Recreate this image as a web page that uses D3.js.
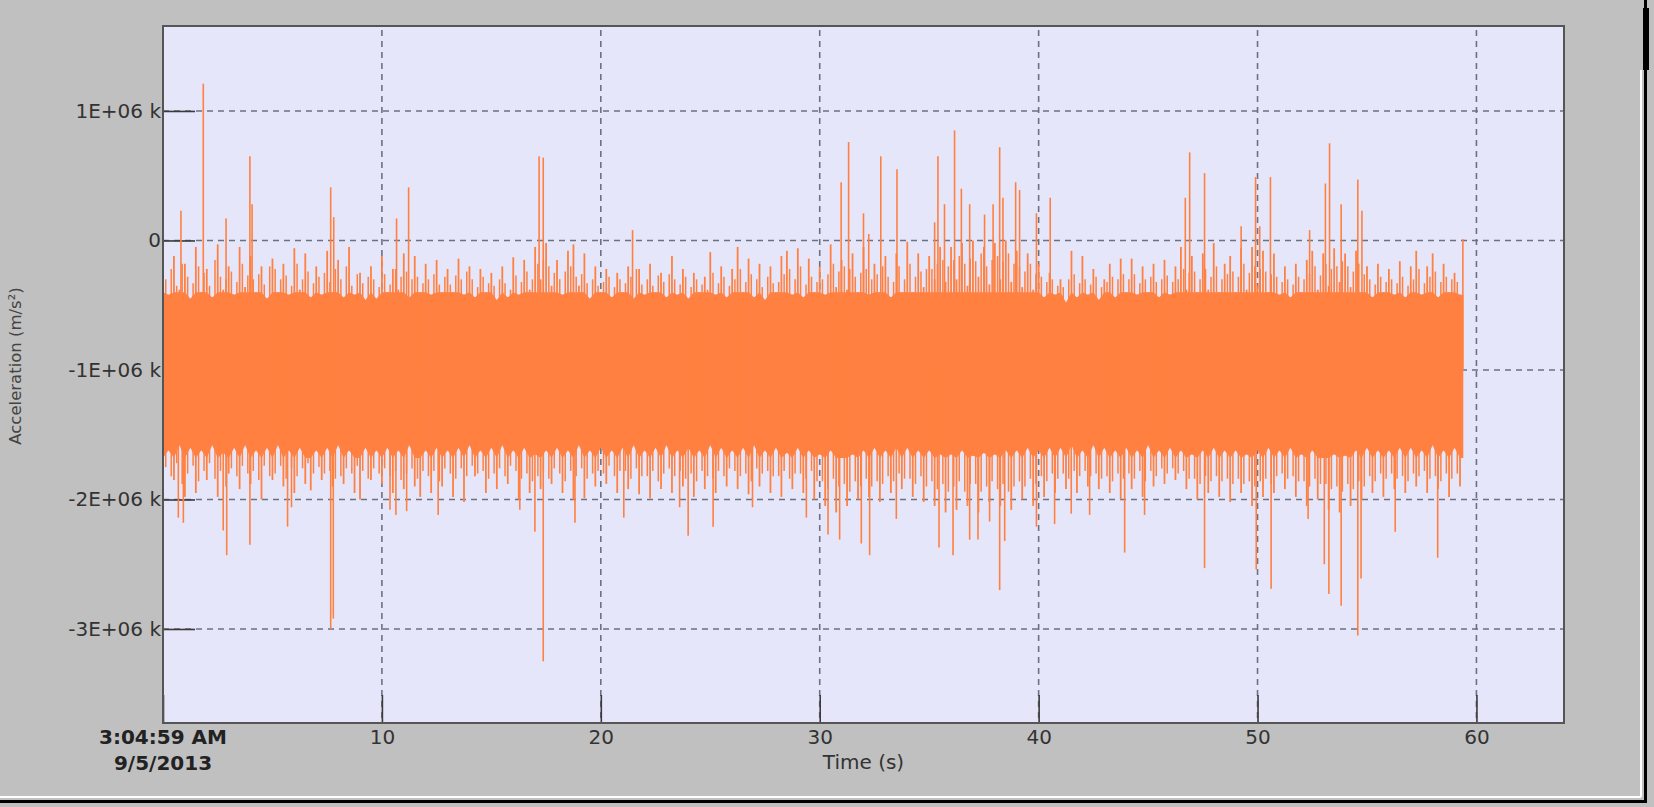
<!DOCTYPE html>
<html>
<head>
<meta charset="utf-8">
<script src="https://cdn.jsdelivr.net/npm/d3@7"></script>
<style>
  body { margin: 0; background: #c0c0c0; }
  svg { display: block; }
  text { font-family: "DejaVu Sans", sans-serif; }
</style>
</head>
<body>
<div id="chart"></div>
<script>
// axis ticks and labels
var xTicks = [0, 10, 20, 30, 40, 50, 60];
var yTicks = [1, 0, -1, -2, -3];          // in 1E+06
var startStamp = ["3:04:59 AM", "9/5/2013"];

// ragged top / bottom edge of the dense waveform, one value every 0.25 s (1E+06 units)
var sampleStep = 0.25;
var upperEdge = [
  -0.10,-0.42,-0.12,-0.38, -0.18,-0.45,-0.05,-0.40, -0.22,-0.44,-0.03,-0.38, -0.20,-0.42,-0.05,-0.36,
  -0.12,-0.40,-0.20,-0.45, -0.14,-0.40,-0.18,-0.42, -0.06,-0.38,-0.10,-0.44, -0.20,-0.42,-0.08,-0.40,
  -0.15,-0.44,-0.05,-0.42, -0.25,-0.46,-0.20,-0.45, -0.12,-0.40,-0.22,-0.38, -0.10,-0.44,-0.12,-0.40,
  -0.18,-0.42,-0.15,-0.40, -0.22,-0.40,-0.14,-0.42, -0.20,-0.44,-0.22,-0.40, -0.25,-0.46,-0.20,-0.44,
  -0.13,-0.42,-0.15,-0.38, -0.05,-0.30,-0.02,-0.35, -0.15,-0.42,-0.08,-0.03, -0.35,-0.10,-0.45,-0.20,
  -0.40,-0.22,-0.44,-0.25, -0.40,-0.20,-0.45,-0.22, -0.42,-0.18,-0.40,-0.25, -0.44,-0.12,-0.42,-0.22,
  -0.45,-0.25,-0.40,-0.28, -0.09,-0.42,-0.20,-0.44, -0.22,-0.05,-0.40,-0.14, -0.44,-0.18,-0.46,-0.20,
  -0.40,-0.12,-0.08,-0.42, -0.06,-0.44,-0.14,-0.40, -0.20,-0.42,-0.03,-0.36, -0.15,-0.38,-0.10,-0.40,
  -0.05,-0.42,-0.18,-0.40, -0.12,-0.44,-0.10,-0.40, -0.01,-0.40,-0.10,-0.36, -0.12,-0.30,-0.05,-0.32,
  -0.05,-0.30,-0.02,-0.35,  0.00,-0.28,-0.05,-0.34, -0.02,-0.30, 0.00,-0.32, -0.08,-0.36,-0.10,-0.38,
  -0.18,-0.44,-0.25,-0.42, -0.30,-0.48,-0.08,-0.44, -0.12,-0.42,-0.22,-0.46, -0.30,-0.18,-0.44,-0.14,
  -0.40,-0.14,-0.42,-0.20, -0.40,-0.18,-0.44,-0.15, -0.42,-0.20,-0.05,-0.38, -0.12,-0.40,-0.10,-0.38,
  -0.02,-0.40,-0.18,-0.12, -0.40,-0.06,-0.38,-0.05, -0.35,-0.08,-0.40,-0.10, -0.42,-0.20,-0.44,-0.18,
  -0.40,-0.15,-0.08,-0.38, -0.10,-0.35,-0.06,-0.32, -0.10,-0.36,-0.08,-0.40, -0.20,-0.44,-0.18,-0.40,
  -0.22,-0.42,-0.16,-0.44, -0.20,-0.08,-0.42,-0.20, -0.10,-0.44,-0.18,-0.40, -0.25,-0.42
];
var lowerEdge = [
  -1.90,-1.62,-1.85,-1.58, -1.98,-1.60,-1.95,-1.62, -1.85,-1.58,-1.98,-1.64, -1.80,-1.60,-1.92,-1.58,
  -1.88,-1.62,-2.00,-1.60, -1.85,-1.58,-1.90,-1.62, -1.95,-1.60,-1.88,-1.93, -1.62,-1.85,-1.60,-1.90,
  -1.58,-1.88,-1.62,-1.95, -2.00,-1.60,-1.85,-1.62, -1.88,-1.60,-1.95,-1.62, -1.92,-1.58,-1.90,-1.98,
  -1.62,-1.95,-1.60,-1.90, -1.62,-1.98,-1.60,-2.02, -1.58,-1.82,-1.62,-1.95, -1.60,-1.92,-1.58,-1.88,
  -1.62,-2.00,-1.60,-1.95, -1.65,-1.92,-1.62,-1.88, -1.60,-1.95,-1.62,-2.00, -1.58,-1.99,-1.62,-1.90,
  -1.60,-1.88,-1.62,-1.95, -1.60,-1.92,-1.58,-1.96, -1.62,-1.99,-1.60,-1.92, -1.58,-1.95,-1.62,-1.90,
  -1.60,-1.98,-1.62,-1.92, -1.58,-1.95,-1.60,-1.90, -1.62,-1.92,-1.60,-1.96, -1.58,-1.90,-1.62,-1.95,
  -1.60,-1.98,-1.64,-1.92, -1.60,-1.95,-1.62,-2.00, -1.65,-2.05,-1.62,-2.10, -1.68,-2.05,-1.65,-2.00,
  -1.62,-1.98,-1.60,-2.02, -1.62,-1.95,-1.60,-1.92, -1.60,-1.98,-1.62,-2.02, -1.62,-2.05,-1.65,-2.10,
  -1.65,-2.08,-1.62,-2.05, -1.66,-2.10,-1.64,-2.02, -1.65,-2.05,-1.62,-2.08, -1.62,-2.00,-1.60,-2.05,
  -1.62,-1.98,-1.60,-1.95, -1.60,-1.92,-1.58,-1.95, -1.62,-1.90,-1.58,-1.92, -1.60,-1.95,-1.62,-2.00,
  -1.60,-1.92,-1.62,-1.98, -1.58,-1.90,-1.62,-1.88, -1.60,-1.85,-1.62,-1.92, -1.65,-2.00,-1.62,-1.95,
  -1.60,-1.98,-1.62,-2.02, -1.62,-1.95,-1.65,-2.05, -1.62,-1.98,-1.60,-1.95, -1.62,-1.92,-1.60,-1.98,
  -1.65,-2.05,-1.62,-2.00, -1.68,-2.08,-1.65,-2.10, -1.66,-2.05,-1.62,-2.00, -1.60,-1.95,-1.62,-1.98,
  -1.62,-1.92,-1.60,-1.95, -1.60,-1.90,-1.62,-1.95, -1.58,-1.92,-1.62,-1.98, -1.60,-1.90
];
// in-between hairs, half a step later (t = 0.125 s + 0.25 s * i)
var upperMid = [
  -0.30,-0.22,-0.35,-0.18, -0.28,-0.33,-0.20,-0.25, -0.35,-0.15,-0.28,-0.30, -0.24,-0.32,-0.18,-0.27,
  -0.30,-0.26,-0.34,-0.20, -0.22,-0.30,-0.27,-0.35, -0.18,-0.30,-0.24,-0.33, -0.28,-0.25,-0.32,-0.22,
  -0.30,-0.20,-0.35,-0.26, -0.33,-0.28,-0.30,-0.36, -0.26,-0.34,-0.22,-0.28, -0.24,-0.30,-0.28,-0.33,
  -0.30,-0.26,-0.34,-0.28, -0.34,-0.27,-0.30,-0.24, -0.30,-0.36,-0.28,-0.33, -0.35,-0.30,-0.33,-0.38,
  -0.27,-0.32,-0.24,-0.30, -0.18,-0.15,-0.20,-0.25, -0.30,-0.24,-0.20,-0.28, -0.26,-0.33,-0.30,-0.35,
  -0.32,-0.28,-0.36,-0.30, -0.33,-0.28,-0.22,-0.34, -0.30,-0.35,-0.27,-0.32, -0.26,-0.30,-0.34,-0.28,
  -0.36,-0.30,-0.34,-0.38, -0.25,-0.33,-0.28,-0.35, -0.30,-0.22,-0.32,-0.26, -0.30,-0.36,-0.28,-0.33,
  -0.32,-0.26,-0.22,-0.30, -0.20,-0.34,-0.28,-0.32, -0.30,-0.26,-0.18,-0.24, -0.20,-0.22,-0.28,-0.25,
  -0.22,-0.30,-0.26,-0.20, -0.28,-0.32,-0.20,-0.30, -0.18,-0.28,-0.24,-0.22, -0.22,-0.18,-0.15,-0.20,
  -0.15,-0.12,-0.18,-0.14, -0.16,-0.10,-0.20,-0.15, -0.12,-0.16,-0.10,-0.18, -0.20,-0.24,-0.18,-0.26,
  -0.28,-0.32,-0.30,-0.35, -0.36,-0.30,-0.26,-0.33, -0.30,-0.34,-0.28,-0.36, -0.32,-0.28,-0.30,-0.26,
  -0.30,-0.26,-0.33,-0.30, -0.28,-0.32,-0.30,-0.27, -0.32,-0.30,-0.22,-0.25, -0.24,-0.30,-0.22,-0.28,
  -0.20,-0.30,-0.26,-0.24, -0.28,-0.18,-0.25,-0.20, -0.22,-0.24,-0.26,-0.28, -0.32,-0.30,-0.34,-0.28,
  -0.30,-0.26,-0.20,-0.27, -0.18,-0.22,-0.20,-0.16, -0.20,-0.24,-0.18,-0.26, -0.30,-0.34,-0.28,-0.32,
  -0.30,-0.33,-0.28,-0.35, -0.30,-0.22,-0.33,-0.28, -0.24,-0.32,-0.28,-0.30, -0.32
];
var lowerMid = [
  -1.75,-1.82,-1.72,-1.88, -1.80,-1.74,-1.86,-1.78, -1.72,-1.84,-1.78,-1.90, -1.76,-1.82,-1.74,-1.80,
  -1.78,-1.85,-1.74,-1.82, -1.80,-1.74,-1.84,-1.76, -1.82,-1.76,-1.72,-1.80, -1.75,-1.80,-1.78,-1.84,
  -1.82,-1.76,-1.80,-1.74, -1.78,-1.84,-1.76,-1.80, -1.76,-1.82,-1.78,-1.85, -1.80,-1.76,-1.84,-1.78,
  -1.82,-1.78,-1.86,-1.76, -1.80,-1.84,-1.76,-1.82, -1.74,-1.80,-1.78,-1.84, -1.80,-1.76,-1.82,-1.74,
  -1.78,-1.84,-1.80,-1.86, -1.82,-1.78,-1.84,-1.76, -1.80,-1.86,-1.78,-1.82, -1.76,-1.84,-1.80,-1.78,
  -1.80,-1.74,-1.82,-1.78, -1.78,-1.84,-1.76,-1.82, -1.82,-1.78,-1.86,-1.80, -1.76,-1.82,-1.78,-1.84,
  -1.80,-1.86,-1.78,-1.82, -1.84,-1.78,-1.82,-1.76, -1.78,-1.82,-1.80,-1.86, -1.76,-1.80,-1.78,-1.82,
  -1.82,-1.78,-1.84,-1.80, -1.80,-1.84,-1.78,-1.86, -1.86,-1.92,-1.84,-1.90, -1.88,-1.94,-1.86,-1.90,
  -1.84,-1.90,-1.86,-1.88, -1.82,-1.86,-1.80,-1.84, -1.84,-1.88,-1.82,-1.90, -1.86,-1.92,-1.88,-1.94,
  -1.90,-1.86,-1.94,-1.88, -1.88,-1.94,-1.90,-1.86, -1.92,-1.88,-1.94,-1.90, -1.86,-1.90,-1.84,-1.88,
  -1.82,-1.86,-1.80,-1.84, -1.80,-1.84,-1.78,-1.82, -1.78,-1.82,-1.80,-1.84, -1.82,-1.86,-1.80,-1.84,
  -1.80,-1.84,-1.78,-1.86, -1.78,-1.82,-1.76,-1.80, -1.76,-1.80,-1.78,-1.84, -1.84,-1.88,-1.82,-1.86,
  -1.82,-1.86,-1.84,-1.88, -1.84,-1.88,-1.86,-1.90, -1.86,-1.84,-1.88,-1.82, -1.80,-1.84,-1.82,-1.86,
  -1.86,-1.90,-1.84,-1.88, -1.88,-1.92,-1.90,-1.94, -1.88,-1.92,-1.86,-1.90, -1.82,-1.86,-1.80,-1.84,
  -1.80,-1.84,-1.82,-1.86, -1.80,-1.82,-1.78,-1.84, -1.82,-1.86,-1.80,-1.84, -1.80
];

// isolated spikes [time s, value 1E+06]
var upperSpikes = [
  [0.82,0.23],[1.84,1.21],[2.88,0.17],[3.97,0.65],[4.07,0.28],[7.66,0.41],[7.8,0.18],[10.67,0.17],
  [11.22,0.41],[17.18,0.65],[17.37,0.64],[21.45,0.08],[30.98,0.45],[31.32,0.76],[32.0,0.21],[32.24,0.05],
  [32.79,0.65],[33.53,0.55],[35.25,0.14],[35.4,0.65],[35.7,0.28],[36.16,0.85],[36.47,0.4],[36.85,0.28],
  [37.53,0.2],[37.92,0.28],[38.22,0.72],[38.37,0.33],[38.95,0.45],[39.13,0.39],[39.9,0.21],[40.53,0.33],
  [46.7,0.33],[46.9,0.68],[47.58,0.52],[49.25,0.11],[49.91,0.49],[50.1,0.11],[50.59,0.49],[52.38,0.08],
  [53.1,0.44],[53.29,0.75],[53.82,0.28],[54.58,0.47],[54.77,0.23],[59.38,0.01]
];
var lowerSpikes = [
  [0.7,-2.14],[0.93,-2.18],[2.75,-2.24],[2.91,-2.43],[3.97,-2.35],[5.69,-2.21],[5.87,-2.06],[7.66,-3.0],
  [7.78,-2.92],[10.37,-2.08],[10.64,-2.12],[11.13,-2.09],[12.57,-2.12],[16.3,-2.08],[16.99,-2.25],[17.37,-3.25],
  [18.82,-2.18],[21.05,-2.14],[23.6,-2.06],[23.99,-2.28],[25.13,-2.21],[26.93,-2.06],[29.39,-2.14],[30.38,-2.27],
  [30.91,-2.31],[31.9,-2.34],[32.28,-2.43],[33.5,-2.15],[35.45,-2.37],[36.09,-2.43],[36.85,-2.31],[37.23,-2.31],
  [37.76,-2.17],[38.22,-2.7],[38.45,-2.32],[39.9,-2.21],[40.73,-2.19],[41.49,-2.11],[42.33,-2.12],[43.93,-2.41],
  [44.84,-2.12],[47.58,-2.53],[49.94,-2.54],[50.62,-2.69],[52.31,-2.15],[53.05,-2.5],[53.26,-2.73],[53.82,-2.82],
  [54.58,-3.05],[54.73,-2.61],[56.29,-2.25],[58.23,-2.45]
];

var W = 1654, H = 807;
var plot = {left: 163, top: 26, right: 1564, bottom: 723};
var orange = "#ff8040";
var endTime = 59.4;

var svg = d3.select("#chart").append("svg")
    .attr("width", W)
    .attr("height", H);

svg.append("rect").attr("width", W).attr("height", H).attr("fill", "#c0c0c0");

var x = d3.scaleLinear().domain([0, 64]).range([plot.left, plot.right]);
var y = d3.scaleLinear().domain([-3.726, 1.656]).range([plot.bottom, plot.top]);

// plot background
svg.append("rect")
    .attr("x", plot.left).attr("y", plot.top)
    .attr("width", plot.right - plot.left).attr("height", plot.bottom - plot.top)
    .attr("fill", "#e6e6fa");

// dashed grid
var grid = svg.append("g").attr("stroke", "#6a7282").attr("stroke-width", 1.6).attr("stroke-dasharray", "6,5");
grid.selectAll(".vg").data(xTicks.filter(function(d) { return d > 0; })).enter().append("line")
    .attr("x1", function(d) { return x(d); }).attr("x2", function(d) { return x(d); })
    .attr("y1", plot.top + 4).attr("y2", plot.bottom);
grid.selectAll(".hg").data(yTicks).enter().append("line")
    .attr("x1", plot.left).attr("x2", plot.right)
    .attr("y1", function(d) { return y(d); }).attr("y2", function(d) { return y(d); });

// axes with inward ticks
var yAxis = svg.append("g")
    .attr("transform", "translate(" + plot.left + ",0)")
    .call(d3.axisLeft(y).tickValues(yTicks).tickSizeInner(-32).tickSizeOuter(0).tickPadding(2)
      .tickFormat(function(d) { return d === 0 ? "0" : d + "E+06 k"; }));
var xAxis = svg.append("g")
    .attr("transform", "translate(0," + plot.bottom + ")")
    .call(d3.axisBottom(x).tickValues(xTicks).tickSizeInner(-28).tickSizeOuter(0).tickPadding(7)
      .tickFormat(function(d) { return d === 0 ? "" : d; }));
[xAxis, yAxis].forEach(function(a) {
  a.select(".domain").remove();
  a.selectAll(".tick line").attr("stroke", "#3a3a3a").attr("stroke-width", 1.6);
  a.selectAll(".tick text").attr("fill", "#333").style("font-size", "20px").style("font-family", "DejaVu Sans");
});

// waveform: dense body (edges trimmed), then one hair per sample, then the spikes
var wave = svg.append("g");
var last = upperEdge.length - 1;
var body = d3.area()
    .x(function(d, i) { return x(Math.min(i * sampleStep, endTime)); })
    .y0(function(d, i) { return y(Math.max(lowerEdge[Math.min(i, last)], -1.68)); })
    .y1(function(d, i) { return y(Math.min(upperEdge[Math.min(i, last)], -0.40)); });
wave.append("path")
    .datum(d3.range(upperEdge.length + 1))
    .attr("fill", orange)
    .attr("d", body);

function hairsOf(values, offset) {
  return values.map(function(v, i) { return [offset + i * sampleStep, v]; });
}
function drawHairs(data, width) {
  wave.append("g").selectAll("line")
    .data(data)
    .enter().append("line")
    .attr("x1", function(d) { return x(d[0]); }).attr("x2", function(d) { return x(d[0]); })
    .attr("y1", y(-1)).attr("y2", function(d) { return y(d[1]); })
    .attr("stroke", orange).attr("stroke-width", width);
}
drawHairs(hairsOf(upperMid, sampleStep / 2).concat(hairsOf(lowerMid, sampleStep / 2)), 1.5);
drawHairs(hairsOf(upperEdge, 0).concat(hairsOf(lowerEdge, 0)), 1.8);
drawHairs(upperSpikes.concat(lowerSpikes), 1.6);

// plot frame
svg.append("rect")
    .attr("x", plot.left).attr("y", plot.top)
    .attr("width", plot.right - plot.left).attr("height", plot.bottom - plot.top)
    .attr("fill", "none").attr("stroke", "#555").attr("stroke-width", 2);

// start time stamp under x = 0
svg.selectAll(".stamp").data(startStamp).enter().append("text")
    .attr("x", x(0)).attr("y", function(d, i) { return 744 + i * 26; })
    .attr("text-anchor", "middle")
    .attr("font-weight", "bold").attr("font-size", 20).attr("fill", "#222")
    .text(function(d) { return d; });

// axis titles
svg.append("text")
    .attr("x", (plot.left + plot.right) / 2).attr("y", 769)
    .attr("text-anchor", "middle").attr("font-size", 20).attr("fill", "#333")
    .text("Time (s)");
svg.append("text")
    .attr("transform", "translate(21,366) rotate(-90)")
    .attr("text-anchor", "middle").attr("font-size", 16.5).attr("fill", "#444")
    .text("Acceleration (m/s²)");

// window edges
svg.append("line").attr("x1", 1641).attr("x2", 1641).attr("y1", 70).attr("y2", 797).attr("stroke", "#fff").attr("stroke-width", 2);
svg.append("line").attr("x1", 0).attr("x2", 1641).attr("y1", 797).attr("y2", 797).attr("stroke", "#fff").attr("stroke-width", 2);
svg.append("line").attr("x1", 1645.5).attr("x2", 1645.5).attr("y1", 0).attr("y2", 803).attr("stroke", "#000").attr("stroke-width", 3);
svg.append("line").attr("x1", 0).attr("x2", 1647).attr("y1", 801.5).attr("y2", 801.5).attr("stroke", "#000").attr("stroke-width", 3);
svg.append("rect").attr("x", 1643).attr("y", 8).attr("width", 6).attr("height", 62).attr("fill", "#000");
</script>
</body>
</html>
